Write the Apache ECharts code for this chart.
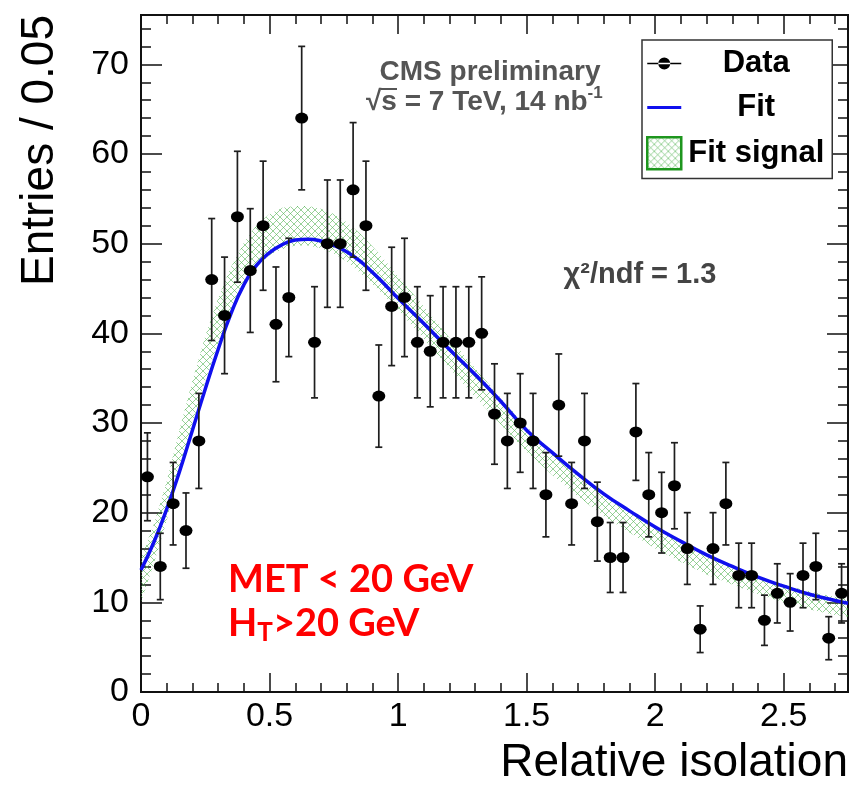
<!DOCTYPE html>
<html><head><meta charset="utf-8">
<script src="https://cdn.jsdelivr.net/npm/echarts@6/dist/echarts.min.js"></script>
<style>html,body{margin:0;padding:0;background:#fff}#chart{width:854px;height:794px}</style>
</head><body><div id="chart"></div>
<script>
// ---- data ----
const binCenters = [0.025,0.075,0.125,0.175,0.225,0.275,0.325,0.375,0.425,0.475,
  0.525,0.575,0.625,0.675,0.725,0.775,0.825,0.875,0.925,0.975,
  1.025,1.075,1.125,1.175,1.225,1.275,1.325,1.375,1.425,1.475,
  1.525,1.575,1.625,1.675,1.725,1.775,1.825,1.875,1.925,1.975,
  2.025,2.075,2.125,2.175,2.225,2.275,2.325,2.375,2.425,2.475,
  2.525,2.575,2.625,2.675,2.725];
const counts = [24,14,21,18,28,46,42,53,47,52,
  41,44,64,39,50,50,56,52,33,43,
  44,39,38,39,39,39,40,31,28,30,
  28,22,32,21,28,19,15,15,29,22,
  20,23,16,7,16,21,13,13,8,11,
  10,13,14,6,11];
const countErrors = [4.9,3.7,4.6,4.2,5.3,6.8,6.5,7.3,6.9,7.2,
  6.4,6.6,8.0,6.2,7.1,7.1,7.5,7.2,5.7,6.6,
  6.6,6.2,6.2,6.2,6.2,6.2,6.3,5.6,5.3,5.5,
  5.3,4.7,5.7,4.6,5.3,4.4,3.9,3.9,5.4,4.7,
  4.5,4.8,4.0,2.6,4.0,4.6,3.6,3.6,2.8,3.3,
  3.2,3.6,3.7,2.4,3.3];
const fitX = [0,0.05,0.1,0.15,0.2,0.25,0.3,0.35,0.4,0.45,0.5,0.55,0.6,0.65,0.7,0.75,0.8,0.85,0.9,0.95,
  1.0,1.1,1.2,1.3,1.4,1.5,1.6,1.7,1.8,1.9,2.0,2.1,2.2,2.3,2.4,2.5,2.6,2.7,2.75];
const fitY = [13.6,16.7,20.4,24.6,29.2,33.8,38.2,42.2,45.4,47.6,49.0,49.9,50.4,50.5,50.3,49.8,49.1,48.1,46.8,45.4,
  43.9,41.1,38.2,35.4,32.4,29.2,26.7,24.3,22.1,20.2,18.4,16.8,15.3,14.0,12.8,11.8,10.9,10.2,9.9];
const signalX = fitX;
const signalLow = [10.0,14.3,19.1,24.7,29.9,34.7,38.9,42.6,45.5,47.5,48.7,49.4,49.8,49.8,49.5,48.9,48.0,46.8,45.5,44.1,
  42.6,39.4,36.1,32.9,29.8,26.8,24.2,21.8,19.6,17.8,16.0,14.5,13.1,12.0,10.9,10.0,9.2,8.6,8.4];
const signalHigh = [15.0,18.7,23.5,29.3,34.7,39.7,43.9,47.4,50.1,52.1,53.3,54.0,54.2,54.2,53.9,53.3,52.4,51.2,49.7,48.1,
  46.4,43.0,39.5,36.1,32.8,29.6,26.8,24.4,22.2,20.2,18.4,16.7,15.3,14.0,12.9,12.0,11.2,10.6,10.4];
const xTicks = [0,0.5,1,1.5,2,2.5];
const xMinorTicks = [0.1,0.2,0.3,0.4,0.6,0.7,0.8,0.9,1.1,1.2,1.3,1.4,1.6,1.7,1.8,1.9,2.1,2.2,2.3,2.4,2.6,2.7];
const yTicks = [0,10,20,30,40,50,60,70];
const yMinorTicks = [2,4,6,8,12,14,16,18,22,24,26,28,32,34,36,38,42,44,46,48,52,54,56,58,62,64,66,68,72,74];

// ---- drawing ----
const FONT = "'Liberation Sans', Arial, Helvetica, sans-serif";
function makeHatch(){
  const c = document.createElement('canvas'); c.width = 7; c.height = 7;
  const g = c.getContext('2d');
  g.strokeStyle = 'rgba(85,180,85,0.6)'; g.lineWidth = 1;
  g.beginPath(); g.moveTo(-1,-1); g.lineTo(8,8); g.moveTo(8,-1); g.lineTo(-1,8); g.stroke();
  return c;
}
const hatch = {image: makeHatch(), repeat: 'repeat'};

const chart = echarts.init(document.getElementById('chart'), null, {renderer:'canvas'});
const axisLine = {show:true, onZero:false, lineStyle:{color:'#111', width:2}};
const gridBox = {left:141, right:6, top:15, bottom:102};
function xAx(grid, pos, ticks, len, labels, extra){
  return Object.assign({type:'value', gridIndex:grid, position:pos, min:0, max:2.75,
    axisLine: axisLine, splitLine:{show:false},
    axisTick:{show:true, inside:true, length:len, customValues:ticks, lineStyle:{color:'#111', width:1.5}},
    axisLabel: labels ? {show:true, customValues:ticks, fontSize:34, color:'#000', fontFamily:FONT, margin:8,
      formatter: v => String(v)} : {show:false}}, extra||{});
}
function yAx(grid, pos, ticks, len, labels, extra){
  return Object.assign({type:'value', gridIndex:grid, position:pos, min:0, max:75.5,
    axisLine: axisLine, splitLine:{show:false},
    axisTick:{show:true, inside:true, length:len, customValues:ticks, lineStyle:{color:'#111', width:1.5}},
    axisLabel: labels ? {show:true, customValues:ticks, fontSize:34, color:'#000', fontFamily:FONT, margin:12,
      formatter: v => String(v)} : {show:false}}, extra||{});
}

const option = {
  animation:false,
  backgroundColor:'#fff',
  grid:[Object.assign({}, gridBox), Object.assign({}, gridBox)],
  xAxis:[
    xAx(0,'bottom',xTicks,19,true,{name:'Relative isolation', nameLocation:'end', nameGap:0,
      nameTextStyle:{fontSize:46, color:'#000', fontFamily:FONT, align:'right', verticalAlign:'top', padding:[48,0,0,0]}}),
    xAx(0,'top',xTicks,19,false),
    xAx(1,'bottom',xMinorTicks,9,false),
    xAx(1,'top',xMinorTicks,9,false)
  ],
  yAxis:[
    yAx(0,'left',yTicks,21,true,{name:'Entries / 0.05', nameLocation:'end', nameGap:0, nameRotate:90,
      nameTextStyle:{fontSize:46, color:'#000', fontFamily:FONT, align:'right', verticalAlign:'bottom', padding:[0,0,78,0]}}),
    yAx(0,'right',yTicks,21,false),
    yAx(1,'left',yMinorTicks,10,false),
    yAx(1,'right',yMinorTicks,10,false)
  ],
  legend:{
    orient:'vertical', left:642, top:40,
    backgroundColor:'#fff', borderColor:'#333', borderWidth:1.5,
    padding:[8,6,8,4], itemGap:13, itemWidth:34, itemHeight:32,
    selectedMode:false,
    data:[
      {name:'Data', icon:'path://M0,5.0 L34,5.0 L34,6.4 L0,6.4 Z M11,5.7 A6,6 0 1,0 23,5.7 A6,6 0 1,0 11,5.7 Z', itemStyle:{color:'#000'}},
      {name:'Fit', icon:'path://M0,0 L34,0 L34,3 L0,3 Z', itemStyle:{color:'#1010ee'}},
      {name:'Fit signal', icon:'rect', itemStyle:{color:hatch, borderColor:'#1e961e', borderWidth:2.5}}
    ],
    formatter: n => '{t|' + n + '}',
    textStyle:{rich:{t:{width:140, align:'center', fontSize:31, lineHeight:32, fontWeight:'bold', color:'#000', fontFamily:FONT}}}
  },
  graphic:[
    {type:'text', x:490, y:72, style:{text:'CMS preliminary', fill:'#555', font:"bold 28px 'Liberation Sans', Arial, sans-serif", textAlign:'center', textVerticalAlign:'middle'}},
    {type:'text', x:366, y:102, style:{text:'{m|√s = 7 TeV, 14 nb}{s|-1}', textVerticalAlign:'middle',
      rich:{m:{fill:'#555', fontSize:28, fontWeight:'bold', fontFamily:FONT}, s:{fill:'#555', fontSize:17, fontWeight:'bold', fontFamily:FONT, padding:[0,0,18,0]}}}},
    {type:'line', shape:{x1:381, y1:89, x2:397, y2:89}, style:{stroke:'#555', lineWidth:2}},
    {type:'text', x:640, y:275, style:{text:'χ²/ndf = 1.3', fill:'#444', font:"bold 29px 'Liberation Sans', Arial, sans-serif", textAlign:'center', textVerticalAlign:'middle'}},
    {type:'text', x:228, y:580, style:{text:'MET < 20 GeV', fill:'#ff0000', font:"bold 38px Lato, 'Open Sans', sans-serif", textVerticalAlign:'middle'}},
    {type:'text', x:228, y:624, style:{text:'{b|H}{sub|T}{b|>20 GeV}', textVerticalAlign:'middle',
      rich:{b:{fill:'#ff0000', fontSize:38, fontWeight:'bold', fontFamily:'Lato'}, sub:{fill:'#ff0000', fontSize:26, fontWeight:'bold', fontFamily:'Lato', padding:[18,0,0,0]}}}}
  ],
  series:[
    {
      name:'Fit signal', type:'custom', xAxisIndex:0, yAxisIndex:0, z:1,
      itemStyle:{color:hatch},
      data: signalX.map((x,i)=>[x, signalLow[i], signalHigh[i]]),
      encode:{x:0, y:[1,2]},
      renderItem:function(params, api){
        if (params.dataIndex !== 0) return null;
        const pts = [];
        for (let i=0;i<signalX.length;i++) pts.push(api.coord([signalX[i], signalHigh[i]]));
        for (let i=signalX.length-1;i>=0;i--) pts.push(api.coord([signalX[i], signalLow[i]]));
        return {type:'polygon', shape:{points:pts}, style:{fill:hatch, stroke:null}};
      }
    },
    {
      name:'Fit', type:'line', xAxisIndex:0, yAxisIndex:0, z:2,
      data: fitX.map((x,i)=>[x, fitY[i]]),
      smooth:true, showSymbol:false, symbol:'none',
      lineStyle:{color:'#1010ee', width:3.5}, itemStyle:{color:'#1010ee'}
    },
    {
      name:'Data', type:'custom', xAxisIndex:0, yAxisIndex:0, z:3,
      itemStyle:{color:'#000'},
      data: binCenters.map((x,i)=>[x, counts[i], countErrors[i]]),
      encode:{x:0, y:1},
      renderItem:function(params, api){
        const x = api.value(0), y = api.value(1), e = api.value(2);
        const t = api.coord([x, y+e]), b = api.coord([x, y-e]);
        const hw = 3.5, st = {stroke:'#1e1e1e', lineWidth:1.7};
        return {type:'group', children:[
          {type:'line', shape:{x1:t[0], y1:t[1], x2:b[0], y2:b[1]}, style:st},
          {type:'line', shape:{x1:t[0]-hw, y1:t[1], x2:t[0]+hw, y2:t[1]}, style:st},
          {type:'line', shape:{x1:b[0]-hw, y1:b[1], x2:b[0]+hw, y2:b[1]}, style:st}
        ]};
      }
    },
    {
      name:'Data', type:'scatter', xAxisIndex:0, yAxisIndex:0, z:4,
      data: binCenters.map((x,i)=>[x, counts[i]]),
      symbol:'circle', symbolSize:[13,11],
      itemStyle:{color:'#000', opacity:1}
    }
  ]
};
chart.setOption(option);
</script></body></html>
